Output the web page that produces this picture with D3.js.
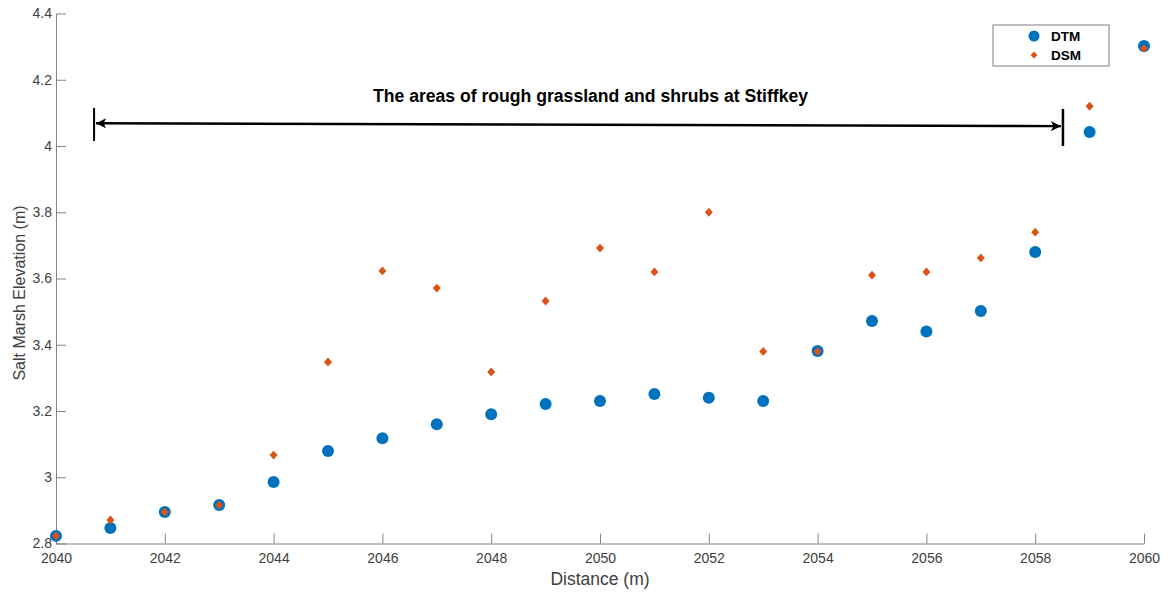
<!DOCTYPE html>
<html>
<head>
<meta charset="utf-8">
<script src="https://cdn.jsdelivr.net/npm/d3@7"></script>
<style>
  html, body { margin: 0; padding: 0; background: #fff; }
  svg { display: block; font-family: "Liberation Sans", Arial, Helvetica, sans-serif; }
</style>
</head>
<body>
<svg id="chart" width="1176" height="594"></svg>
<script>
// Distance along the transect (m)
const distance = [2040, 2041, 2042, 2043, 2044, 2045, 2046, 2047, 2048, 2049, 2050,
                  2051, 2052, 2053, 2054, 2055, 2056, 2057, 2058, 2059, 2060];
// Ground surface (DTM) elevation (m)
const dtm = [2.823, 2.847, 2.895, 2.916, 2.986, 3.079, 3.118, 3.16, 3.19, 3.221, 3.23,
             3.251, 3.24, 3.23, 3.381, 3.472, 3.44, 3.502, 3.68, 4.042, 4.302];
// Surface incl. vegetation (DSM) elevation (m)
const dsm = [2.823, 2.871, 2.895, 2.916, 3.067, 3.348, 3.623, 3.571, 3.318, 3.532, 3.692,
             3.62, 3.80, 3.38, 3.38, 3.61, 3.62, 3.662, 3.74, 4.12, 4.295];
const xTicks = [2040, 2042, 2044, 2046, 2048, 2050, 2052, 2054, 2056, 2058, 2060];
const yTicks = [2.8, 3.0, 3.2, 3.4, 3.6, 3.8, 4.0, 4.2, 4.4];
// Extent of the annotated grassland/shrub zone
const zoneStart = 2040.70, zoneEnd = 2058.51;
const zoneArrowY = [4.0685, 4.060];
const zoneBarLeft = [4.015, 4.115], zoneBarRight = [4.0, 4.112];
const zoneLabel = "The areas of rough grassland and shrubs at Stiffkey";

const svg = d3.select("#chart");
const margin = {left: 56, right: 32, top: 13.5, bottom: 50.5};
const W = 1176, H = 594;

const x = d3.scaleLinear().domain([2040, 2060]).range([margin.left, W - margin.right]);
const y = d3.scaleLinear().domain([2.8, 4.4]).range([H - margin.bottom, margin.top]);

const axisColor = "#858585";
const textColor = "#404040";

// X axis (ticks pointing inwards)
const gx = svg.append("g")
  .attr("transform", `translate(0,${y(2.8)})`)
  .call(d3.axisBottom(x).tickValues(xTicks).tickFormat(d3.format("d")).tickSizeInner(-10).tickSizeOuter(0));
gx.select(".domain").attr("stroke", axisColor);
gx.selectAll(".tick line").attr("stroke", axisColor);
gx.selectAll(".tick text").attr("fill", textColor).attr("font-size", 14)
  .attr("dy", null).attr("y", 19.5);

// Y axis (ticks pointing inwards)
const gy = svg.append("g")
  .attr("transform", `translate(${x(2040)},0)`)
  .call(d3.axisLeft(y).tickValues(yTicks).tickFormat(d => String(+d.toFixed(1))).tickSizeInner(-10).tickSizeOuter(0).tickPadding(4));
gy.select(".domain").attr("stroke", axisColor);
gy.selectAll(".tick line").attr("stroke", axisColor);
gy.selectAll(".tick text").attr("fill", textColor).attr("font-size", 14);

// Axis titles
svg.append("text")
  .attr("x", (x(2040) + x(2060)) / 2).attr("y", 585)
  .attr("text-anchor", "middle").attr("fill", textColor).attr("font-size", 17.5)
  .text("Distance (m)");
svg.append("text")
  .attr("transform", "translate(25,293) rotate(-90)")
  .attr("text-anchor", "middle").attr("fill", textColor).attr("font-size", 16)
  .text("Salt Marsh Elevation (m)");

// Markers
const blue = "#0072BD", orange = "#D95319";
const diamond = "M0,-4.4L4,0L0,4.4L-4,0Z";

svg.append("g").selectAll("circle")
  .data(distance.map((d, i) => [d, dtm[i]]))
  .join("circle")
  .attr("cx", d => x(d[0])).attr("cy", d => y(d[1]))
  .attr("r", 6).attr("fill", blue);

svg.append("g").selectAll("path")
  .data(distance.map((d, i) => [d, dsm[i]]))
  .join("path")
  .attr("d", diamond)
  .attr("transform", d => `translate(${x(d[0])},${y(d[1])})`)
  .attr("fill", orange);

// Zone annotation: end bars and double-headed arrow
const ann = svg.append("g").attr("stroke", "#000");
ann.append("line")
  .attr("x1", x(zoneStart)).attr("x2", x(zoneStart))
  .attr("y1", y(zoneBarLeft[0])).attr("y2", y(zoneBarLeft[1]))
  .attr("stroke-width", 2);
ann.append("line")
  .attr("x1", x(zoneEnd)).attr("x2", x(zoneEnd))
  .attr("y1", y(zoneBarRight[0])).attr("y2", y(zoneBarRight[1]))
  .attr("stroke-width", 2.5);

const defs = svg.append("defs");
defs.append("marker")
  .attr("id", "head").attr("viewBox", "0 0 10 10")
  .attr("refX", 10).attr("refY", 5)
  .attr("markerWidth", 5).attr("markerHeight", 4)
  .attr("markerUnits", "strokeWidth")
  .attr("orient", "auto-start-reverse")
  .append("path").attr("d", "M0,0 L10,5 L0,10 L2.5,5 Z").attr("fill", "#000");

ann.append("line")
  .attr("x1", x(zoneStart) + 2).attr("y1", y(zoneArrowY[0]))
  .attr("x2", x(zoneEnd) - 2).attr("y2", y(zoneArrowY[1]))
  .attr("stroke-width", 2.5)
  .attr("marker-start", "url(#head)")
  .attr("marker-end", "url(#head)");

svg.append("text")
  .attr("x", 590.5).attr("y", 102)
  .attr("text-anchor", "middle").attr("font-weight", "bold").attr("font-size", 17.6)
  .attr("fill", "#000")
  .text(zoneLabel);

// Legend
const lg = svg.append("g").attr("transform", "translate(993,25)");
lg.append("rect").attr("width", 116).attr("height", 41)
  .attr("fill", "#fff").attr("stroke", "#808080").attr("stroke-width", 1);
lg.append("circle").attr("cx", 41).attr("cy", 11).attr("r", 5.5).attr("fill", blue);
lg.append("path").attr("d", "M0,-3.6L3.3,0L0,3.6L-3.3,0Z").attr("transform", "translate(41,30)").attr("fill", orange);
lg.append("text").attr("x", 58).attr("y", 16).attr("font-size", 13.5).attr("font-weight", "bold").text("DTM");
lg.append("text").attr("x", 58).attr("y", 35).attr("font-size", 13.5).attr("font-weight", "bold").text("DSM");
</script>
</body>
</html>
